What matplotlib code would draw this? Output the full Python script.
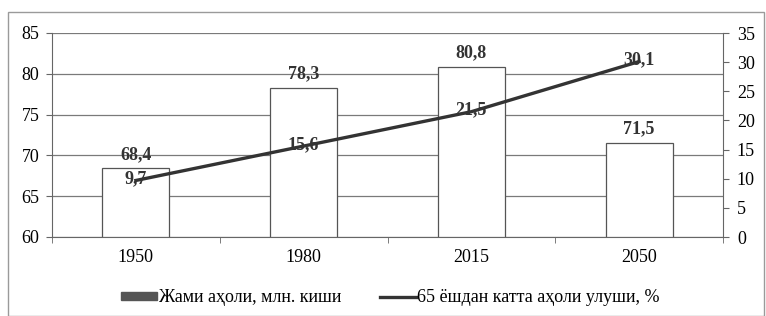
import matplotlib.pyplot as plt
from matplotlib.patches import Rectangle, Patch

years = ['1950', '1980', '2015', '2050']
population = [68.4, 78.3, 80.8, 71.5]
share_65 = [9.7, 15.6, 21.5, 30.1]
bar_label = 'Жами аҳоли, млн. киши'
line_label = '65 ёшдан катта аҳоли улуши, %'

plt.rcParams['font.family'] = ['Liberation Serif', 'DejaVu Serif']
plt.rcParams['font.size'] = 13

fig = plt.figure(figsize=(7.66, 3.16), dpi=100)
fig.patches.append(Rectangle((8 / 766, 0), 756 / 766, 304 / 316, transform=fig.transFigure,
                             fill=False, edgecolor='#9a9a9a', linewidth=1.0))
ax = fig.add_axes([52 / 766, 79 / 316, 671 / 766, 204 / 316])
x = list(range(len(years)))

ax.bar(x, [p - 60 for p in population], bottom=60, width=0.4, color='white',
       edgecolor='#555555', linewidth=0.9, zorder=3)
ax.set_ylim(60, 85)
ax.set_yticks(range(60, 86, 5))
ax.set_xlim(-0.5, 3.5)
ax.set_xticks(x)
ax.set_xticklabels(years)
ax.set_xticks([-0.5, 0.5, 1.5, 2.5, 3.5], minor=True)
ax.tick_params(axis='x', which='major', length=0, pad=9)
ax.tick_params(axis='x', which='minor', length=4, color='#666666')
ax.tick_params(axis='y', length=4, color='#666666', pad=5)
ax.grid(axis='y', color='#7a7a7a', linewidth=0.9, zorder=0)
for s in ['top', 'right']:
    ax.spines[s].set_visible(False)
for s in ['left', 'bottom']:
    ax.spines[s].set_color('#666666')

for xi, p in zip(x, population):
    ax.text(xi, p + 0.7, f'{p:.1f}'.replace('.', ','), ha='center', va='bottom',
            fontweight='bold', color='#333333')

ax2 = ax.twinx()
line, = ax2.plot(x, share_65, color='#333333', linewidth=2.4, zorder=4)
ax2.set_ylim(0, 35)
ax2.set_yticks(range(0, 36, 5))
ax2.tick_params(axis='y', length=4, color='#666666', pad=6)
for s in ['top', 'left', 'bottom']:
    ax2.spines[s].set_visible(False)
ax2.spines['right'].set_color('#666666')
for xi, v in zip(x, share_65):
    ax2.text(xi, v + 0.3, f'{v:.1f}'.replace('.', ','), ha='center', va='center',
             fontweight='bold', color='#333333')

handles = [Patch(facecolor='#555555', edgecolor='#555555'), line]
fig.legend(handles, [bar_label, line_label], loc='center', bbox_to_anchor=(0.51, 18 / 316),
           ncol=2, frameon=False, fontsize=13, handlelength=2.0, handleheight=0.35,
           columnspacing=2.1, handletextpad=0.1)

fig.savefig('out.png', dpi=100)
